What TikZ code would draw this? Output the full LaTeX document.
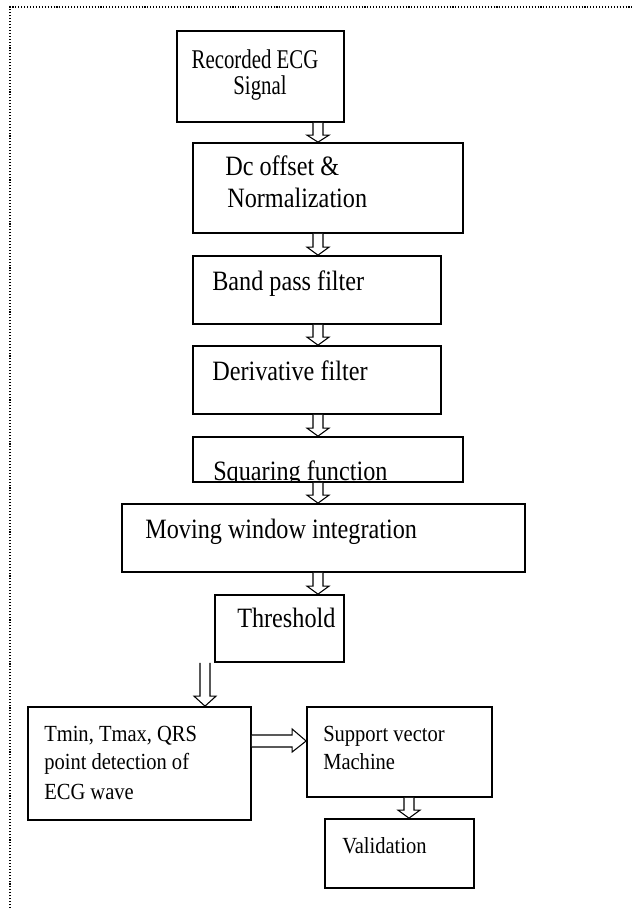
\documentclass[tikz,border=0pt]{standalone}
\usepackage{fontspec}
\setmainfont{Liberation Serif}
\newfontfamily\fA[FakeStretch=0.77]{Liberation Serif}
\newfontfamily\fB[FakeStretch=0.865]{Liberation Serif}
\newfontfamily\fC[FakeStretch=0.89]{Liberation Serif}
\usetikzlibrary{fit,calc}
\tikzset{
  box/.style={draw, line width=1.3pt, inner sep=0pt},
  txtA/.style={anchor=base, inner sep=0pt, font=\fA\fontsize{20.3}{20.5}\selectfont},
  txtB/.style={anchor=base west, inner sep=0pt, font=\fB\fontsize{21}{21.5}\selectfont},
  txtC/.style={anchor=base west, inner sep=0pt, font=\fC\fontsize{17.3}{17.5}\selectfont},
  arr/.style={draw, line width=0.8pt, fill=white},
  frame/.style={line width=0.8pt, dash pattern=on 0.8pt off 1.4pt}
}
\newcommand\VArrow[4]{%
  \path (#1.south -| #3) coordinate (s) (#2.north -| #3) coordinate (e);
  \draw[arr] ($(s)+(-5,0)$) -- ($(e)+(-5,-#4)$) -- ($(e)+(-11,-#4)$) -- (e)
    -- ($(e)+(11,-#4)$) -- ($(e)+(5,-#4)$) -- ($(s)+(5,0)$);
}
\begin{document}
\begin{tikzpicture}[x=0.75pt, y=-0.75pt]
\useasboundingbox (0,0) rectangle (636,908);
\draw[frame] (10,908) -- (10,7) -- (633,7);

\coordinate (ax) at (318,0);
\coordinate (ax7) at (205,0);
\coordinate (ax9) at (409,0);
\coordinate (ay8) at (0,741);

\node[box, fit={(177,31)(344,122)}] (b1) {};
\node[box, fit={(193,143)(463,233)}] (b2) {};
\node[box, fit={(193,256)(441,324)}] (b3) {};
\node[box, fit={(193,346)(441,414)}] (b4) {};
\node[box, fit={(193,437)(463,482)}] (b5) {};
\node[box, fit={(122,504)(525,572)}] (b6) {};
\node[box, fit={(215,595)(344,662)}] (b7) {};
\node[box, fit={(28,707)(251,820)}] (b8) {};
\node[box, fit={(307,707)(492,797)}] (b9) {};
\node[box, fit={(325,819)(474,888)}] (b10) {};

\node[txtA] (t1a) at (255,68) {Recorded ECG};
\node[txtA] (t1b) at (260,94) {Signal};
\node[txtB] (t2a) at (225,175) {Dc offset \&};
\node[txtB] (t2b) at (227,207) {Normalization};
\node[txtB] (t3) at (212,290) {Band pass filter};
\node[txtB] (t4) at (212,380) {Derivative filter};
\begin{scope}
  \clip (b5.south west) rectangle (b5.north east);
  \node[txtB] (t5) at (213,480) {Squaring function};
\end{scope}
\node[txtB] (t6) at (145,538) {Moving window integration};
\node[txtB] (t7) at (237,627) {Threshold};
\node[txtC] (t8a) at (44,741) {Tmin, Tmax, QRS};
\node[txtC] (t8b) at (44,769) {point detection of};
\node[txtC] (t8c) at (44,799) {ECG wave};
\node[txtC] (t9a) at (323,741) {Support vector};
\node[txtC] (t9b) at (323,769) {Machine};
\node[txtC] (t10) at (342,853) {Validation};

\VArrow{b1}{b2}{ax}{7}
\VArrow{b2}{b3}{ax}{8}
\VArrow{b3}{b4}{ax}{8}
\VArrow{b4}{b5}{ax}{8}
\VArrow{b5}{b6}{ax}{8}
\VArrow{b6}{b7}{ax}{8}
\VArrow{b7}{b8}{ax7}{10}
\VArrow{b9}{b10}{ax9}{8}

\path (b8.east |- ay8) coordinate (hs) (b9.west |- ay8) coordinate (he);
\draw[arr] ($(hs)+(0,-6)$) -- ($(he)+(-14,-6)$) -- ($(he)+(-14,-12)$) -- (he)
  -- ($(he)+(-14,11)$) -- ($(he)+(-14,6)$) -- ($(hs)+(0,6)$);
\end{tikzpicture}
\end{document}
